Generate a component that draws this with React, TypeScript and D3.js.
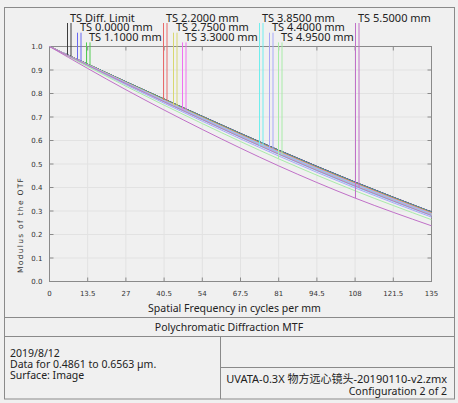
import React from "react";
import * as d3 from "d3";

const FREQS = [0, 27, 54, 81, 108, 135];
const FIELD_LABELS = [
  "TS Diff. Limit",
  "TS 0.0000 mm",
  "TS 1.1000 mm",
  "TS 2.2000 mm",
  "TS 2.7500 mm",
  "TS 3.3000 mm",
  "TS 3.8500 mm",
  "TS 4.4000 mm",
  "TS 4.9500 mm",
  "TS 5.5000 mm",
];
const COLORS = [
  "#3c3c3c",
  "#6868f0",
  "#52cc52",
  "#e86a6a",
  "#d8d870",
  "#f070f0",
  "#70eeee",
  "#a8a8f8",
  "#a8eca8",
  "#c070c8",
];
const T_VALUES = [
  [1, 0.85, 0.703, 0.559, 0.423, 0.296],
  [1, 0.849, 0.702, 0.557, 0.421, 0.295],
  [1, 0.848, 0.7, 0.555, 0.419, 0.292],
  [1, 0.846, 0.696, 0.551, 0.415, 0.289],
  [1, 0.844, 0.693, 0.547, 0.411, 0.286],
  [1, 0.842, 0.69, 0.544, 0.408, 0.283],
  [1, 0.841, 0.688, 0.541, 0.404, 0.28],
  [1, 0.837, 0.682, 0.534, 0.398, 0.274],
  [1, 0.831, 0.672, 0.522, 0.386, 0.263],
  [1, 0.816, 0.647, 0.492, 0.355, 0.237],
];
const S_VALUES = [
  [1, 0.85, 0.703, 0.559, 0.423, 0.296],
  [1, 0.85, 0.702, 0.558, 0.422, 0.295],
  [1, 0.849, 0.701, 0.556, 0.42, 0.294],
  [1, 0.847, 0.699, 0.554, 0.418, 0.292],
  [1, 0.847, 0.697, 0.552, 0.416, 0.29],
  [1, 0.846, 0.696, 0.551, 0.415, 0.289],
  [1, 0.845, 0.695, 0.549, 0.413, 0.287],
  [1, 0.844, 0.693, 0.547, 0.411, 0.286],
  [1, 0.842, 0.69, 0.544, 0.408, 0.283],
  [1, 0.842, 0.689, 0.542, 0.406, 0.281],
];
const X_TICKS = [0, 13.5, 27, 40.5, 54, 67.5, 81, 94.5, 108, 121.5, 135];
const X_TICK_LABELS = ["0", "13.5", "27", "40.5", "54", "67.5", "81", "94.5", "108", "121.5", "135"];
const Y_TICKS = [0, 0.1, 0.2, 0.3, 0.4, 0.5, 0.6, 0.7, 0.8, 0.9, 1.0];
const Y_TICK_LABELS = ["0.0", "0.1", "0.2", "0.3", "0.4", "0.5", "0.6", "0.7", "0.8", "0.9", "1.0"];
const TITLE = "Polychromatic Diffraction MTF";
const X_TITLE = "Spatial Frequency in cycles per mm";
const Y_TITLE = "Modulus of the OTF";
const INFO_LEFT = ["2019/8/12", "Data for 0.4861 to 0.6563 µm.", "Surface: Image"];
const INFO_FILE = "UVATA-0.3X 物方远心镜头-20190110-v2.zmx";
const INFO_CONFIG = "Configuration 2 of 2";

const W = 458;
const H = 403;
const PL = 49.5;
const PR = 431.5;
const PT = 46.5;
const PB = 281.5;
const FONT = "'Noto Sans', 'Noto Sans CJK SC', sans-serif";
const TICK_FONT = "'DejaVu Sans', sans-serif";

function interp(vals: number[], f: number) {
  for (let i = 0; i < FREQS.length - 1; i++) {
    if (f >= FREQS[i] && f <= FREQS[i + 1]) {
      const t = (f - FREQS[i]) / (FREQS[i + 1] - FREQS[i]);
      return vals[i] + t * (vals[i + 1] - vals[i]);
    }
  }
  return vals[vals.length - 1];
}

export default function App() {
  const x = d3.scaleLinear().domain([0, 135]).range([PL, PR]);
  const y = d3.scaleLinear().domain([0, 1]).range([PB, PT]);
  const line = d3
    .line<number>()
    .x((_, i) => x(FREQS[i]))
    .y((v) => y(v))
    .curve(d3.curveMonotoneX);

  const series: { vals: number[]; color: string }[] = [];
  FIELD_LABELS.forEach((_, i) => {
    series.push({ vals: T_VALUES[i], color: COLORS[i] });
    series.push({ vals: S_VALUES[i], color: COLORS[i] });
  });

  const groupX = [70, 166, 262, 358];
  const rowDx = [0, 10, 19];

  return (
    <svg
      width={W}
      height={H}
      style={{ position: "absolute", left: 0, top: 0, display: "block" }}
    >
      <rect x={0} y={0} width={W} height={H} fill="#f0f0f0" />
      {/* outer frames */}
      <rect x={4.5} y={7.5} width={450} height={391.5} fill="none" stroke="#8a8a8a" />
      <line x1={4.5} x2={454.5} y1={317.5} y2={317.5} stroke="#8a8a8a" />
      <line x1={4.5} x2={454.5} y1={336.5} y2={336.5} stroke="#8a8a8a" />
      <line x1={220.5} x2={220.5} y1={336.5} y2={399} stroke="#8a8a8a" />
      <line x1={220.5} x2={454.5} y1={367.5} y2={367.5} stroke="#8a8a8a" />

      {/* grid */}
      {X_TICKS.map((t, i) => (
        <line key={"gx" + i} x1={x(t)} x2={x(t)} y1={PT} y2={PB} stroke="#e2e2e2" />
      ))}
      {Y_TICKS.map((t, i) => (
        <line key={"gy" + i} x1={PL} x2={PR} y1={y(t)} y2={y(t)} stroke="#e2e2e2" />
      ))}
      {/* ticks */}
      {X_TICKS.map((t, i) => (
        <g key={"tx" + i} stroke="#8a8a8a">
          <line x1={x(t)} x2={x(t)} y1={PB} y2={PB - 4} />
          <line x1={x(t)} x2={x(t)} y1={PT} y2={PT + 4} />
        </g>
      ))}
      {Y_TICKS.map((t, i) => (
        <g key={"ty" + i} stroke="#8a8a8a">
          <line x1={PL} x2={PL + 4} y1={y(t)} y2={y(t)} />
          <line x1={PR} x2={PR - 4} y1={y(t)} y2={y(t)} />
        </g>
      ))}
      <rect x={PL} y={PT} width={PR - PL} height={PB - PT} fill="none" stroke="#8a8a8a" />

      {/* tick labels */}
      {X_TICKS.map((t, i) => (
        <text
          key={"lx" + i}
          x={x(t)}
          y={295.5}
          fontSize={7}
          fontFamily={TICK_FONT}
          textAnchor="middle"
          fill="#333"
        >
          {X_TICK_LABELS[i]}
        </text>
      ))}
      {Y_TICKS.map((t, i) => (
        <text
          key={"ly" + i}
          x={42.5}
          y={y(t) + 2.5}
          fontSize={7}
          fontFamily={TICK_FONT}
          textAnchor="end"
          fill="#333"
        >
          {Y_TICK_LABELS[i]}
        </text>
      ))}

      {/* curves */}
      {series.map((s, i) => (
        <path key={"c" + i} d={line(s.vals) || ""} fill="none" stroke={s.color} strokeWidth={1} />
      ))}

      {/* legend */}
      {FIELD_LABELS.map((lab, i) => {
        const g = Math.floor(i / 3);
        const r = i % 3;
        const tx = groupX[g] + rowDx[r];
        const base = 21.5 + 9.7 * r;
        const xT = tx - 2.5;
        const xS = tx + 1;
        const yT = y(interp(T_VALUES[i], x.invert(xT)));
        const yS = y(interp(S_VALUES[i], x.invert(xS)));
        return (
          <g key={"lg" + i}>
            <line x1={xT} x2={xT} y1={base + 1.5} y2={yT} stroke={COLORS[i]} />
            <line x1={xS} x2={xS} y1={base + 1.5} y2={yS} stroke={COLORS[i]} />
            <text x={tx} y={base} fontSize={11} fontFamily={FONT} fill="#222">
              {lab}
            </text>
          </g>
        );
      })}

      {/* axis titles */}
      <text x={234.5} y={311.5} fontSize={10.5} fontFamily={FONT} textAnchor="middle" fill="#222">
        {X_TITLE}
      </text>
      <text
        transform="translate(22.5,273) rotate(-90)"
        fontSize={7.5}
        fontFamily={TICK_FONT}
        letterSpacing={1.3}
        fill="#333"
      >
        {Y_TITLE}
      </text>

      {/* footer */}
      <text x={229} y={331} fontSize={10.5} fontFamily={FONT} textAnchor="middle" fill="#222">
        {TITLE}
      </text>
      {INFO_LEFT.map((t, i) => (
        <text key={"il" + i} x={10} y={357 + 11 * i} fontSize={10.5} fontFamily={FONT} fill="#222">
          {t}
        </text>
      ))}
      <text x={447} y={382.5} fontSize={11} fontFamily={FONT} textAnchor="end" fill="#222">
        {INFO_FILE}
      </text>
      <text x={447} y={395} fontSize={10.5} fontFamily={FONT} textAnchor="end" fill="#222">
        {INFO_CONFIG}
      </text>
    </svg>
  );
}
